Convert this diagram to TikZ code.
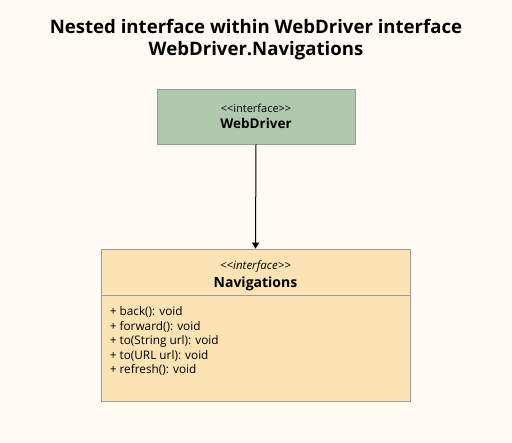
\documentclass[tikz,border=0pt]{standalone}
\usepackage{fontspec}
\setmainfont{Open Sans}
\usetikzlibrary{positioning, arrows.meta}

\definecolor{bgcream}{HTML}{FFFAF4}
\definecolor{drivergreen}{HTML}{B0C9AE}
\definecolor{navyellow}{HTML}{FBE3B3}
\definecolor{boxline}{HTML}{9A9A9A}

\newcommand{\stereo}{<\kern0pt<interface>\kern0pt>}

\tikzset{
  umlbox/.style={draw=boxline, line width=0.8pt, rectangle, inner sep=0pt},
  methodtext/.style={align=left, anchor=north west, inner sep=0pt,
    font=\fontsize{11.8}{14.6}\selectfont}
}

\begin{document}
\begin{tikzpicture}[x=1pt, y=-1pt]
  % canvas
  \fill[bgcream] (0,0) rectangle (512,443);
  \useasboundingbox (0,0) rectangle (512,443);
  % heading
  \node[align=center, font=\fontsize{18.6}{22}\selectfont\bfseries] (title) at (256,40)
    {Nested interface within WebDriver interface\\WebDriver.Navigations};
  % outer interface
  \node[umlbox, fill=drivergreen, minimum width=198pt, minimum height=55pt, align=center]
    (webdriver) at (256,116.5)
    {{\fontsize{11}{13}\selectfont \stereo}\\[4pt]
     {\fontsize{13.5}{15}\selectfont\bfseries WebDriver}};
  % nested interface
  \node[umlbox, fill=navyellow, minimum width=309pt, minimum height=46pt]
    (navhead) at (255.5,272) {};
  \node[align=center, inner sep=0pt] (navtitle) at ([yshift=-3.5pt]navhead.center)
    {{\fontsize{11.5}{13}\selectfont\itshape \stereo}\\[4pt]
     {\fontsize{14}{15}\selectfont\bfseries Navigations}};
  \node[umlbox, fill=navyellow, minimum width=309pt, minimum height=106pt, below=0pt of navhead]
    (navbody) {};
  \node[methodtext] (methods) at ([xshift=9pt, yshift=-11pt]navbody.north west)
    {+ back(): void\\+ forward(): void\\+ to(String url): void\\+ to(URL url): void\\+ refresh(): void};
  % connector
  \draw[line width=1pt, -{Triangle[width=7pt, length=6pt]}] (webdriver.south) -- (navhead.north);
\end{tikzpicture}
\end{document}
